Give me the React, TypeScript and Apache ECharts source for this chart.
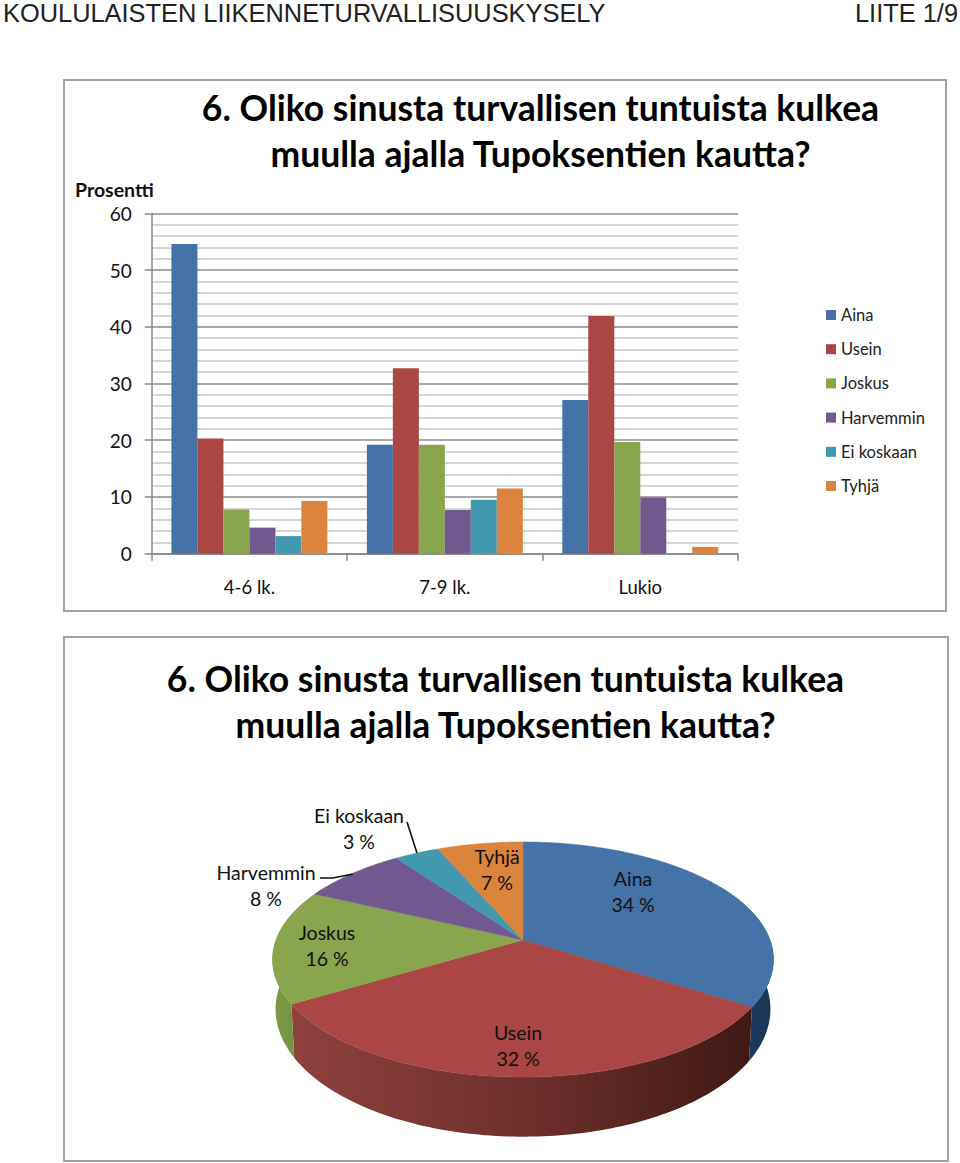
import React, { useEffect, useRef } from "react";
import * as echarts from "echarts";

const categories = ["4-6 lk.", "7-9 lk.", "Lukio"];
const seriesNames = ["Aina", "Usein", "Joskus", "Harvemmin", "Ei koskaan", "Tyhjä"];
const aina = [54.6, 19.2, 27.1];
const usein = [20.3, 32.7, 41.9];
const joskus = [7.8, 19.2, 19.7];
const harvemmin = [4.6, 7.7, 9.9];
const eiKoskaan = [3.1, 9.5, 0];
const tyhja = [9.3, 11.5, 1.2];
const barValues = [aina, usein, joskus, harvemmin, eiKoskaan, tyhja];
const pieShares = [34, 32.4, 15.7, 8, 3.4, 6.5];

const colors = ["#4572a7", "#aa4643", "#89a54e", "#71588f", "#4198af", "#db843d"];
const wallStops: string[][] = [
  ["#1f3d63", "#1a3454"],
  ["#8f413e", "#6f302d", "#3f1915"],
  ["#7c9a46", "#6f8b3c"],
  ["#4f3d66", "#4f3d66"],
  ["#2d6b7c", "#2d6b7c"],
  ["#9b5d2b", "#9b5d2b"],
];
const titleText = "6. Oliko sinusta turvallisen tuntuista kulkea\nmuulla ajalla Tupoksentien kautta?";
const FONT = "Lato";

// projection of the tilted pie: u = sin, v = cos of the angle clockwise from the top
const P = 0.166;
const TOP = { cx: 523, r: 247, ay: 940, a: 114.3 };
const BOTTOM = { cx: 523, r: 244, ay: 988, a: 124 };
const project = (f: typeof TOP, t: number) => {
  const u = Math.sin(t), v = Math.cos(t), w = 1 + P * v;
  return [f.cx + (f.r * u) / w, f.ay - (f.a * v) / w];
};
const arc = (f: typeof TOP, a: number, b: number) => {
  const n = Math.max(2, Math.ceil((b - a) / 0.02));
  const pts: number[][] = [];
  for (let i = 0; i <= n; i++) pts.push(project(f, a + ((b - a) * i) / n));
  return pts;
};
const total = pieShares.reduce((s, x) => s + x, 0);
const sliceRange = (i: number) => {
  const before = pieShares.slice(0, i).reduce((s, x) => s + x, 0);
  return [(before / total) * 2 * Math.PI, ((before + pieShares[i]) / total) * 2 * Math.PI];
};

const renderWall = (params: any) => {
  const i = params.dataIndex;
  const [a0, b0] = sliceRange(i);
  const a = Math.max(a0, Math.PI / 3), b = Math.min(b0, (Math.PI * 5) / 3);
  if (b <= a) return { type: "group", children: [] };
  const top = arc(TOP, a, b);
  const bottom = arc(BOTTOM, a, b).reverse();
  const xs = top.map((p) => p[0]);
  const stops = wallStops[i];
  const fill = new echarts.graphic.LinearGradient(
    Math.min(...xs), 0, Math.max(...xs), 0,
    stops.map((color, k) => ({ offset: k / (stops.length - 1), color })),
    true
  );
  return { type: "polygon", shape: { points: top.concat(bottom) }, style: { fill } };
};
const renderFace = (params: any) => {
  const i = params.dataIndex;
  const [a, b] = sliceRange(i);
  const points = [[TOP.cx, TOP.ay]].concat(arc(TOP, a, b));
  return { type: "polygon", shape: { points }, style: { fill: colors[i], stroke: colors[i], lineWidth: 0.5 } };
};

const pieLabelCentres = [
  [633, 891], [518, 1045], [327, 945], [266, 885], [359, 828], [497, 869],
];
const pieLabels = seriesNames.map((name, i) => ({
  type: "text",
  z: 20,
  x: pieLabelCentres[i][0],
  y: pieLabelCentres[i][1],
  style: {
    text: `${name}\n${Math.round(pieShares[i])} %`,
    fontFamily: FONT, fontSize: 19.5, lineHeight: 26, fill: "#111",
    textAlign: "center", textVerticalAlign: "middle",
  },
}));

export default function App() {
  const ref = useRef<HTMLDivElement>(null);
  useEffect(() => {
    document.body.style.margin = "0";
    const chart = echarts.init(ref.current!, undefined, { renderer: "svg" });
    chart.setOption({
      animation: false,
      backgroundColor: "#fff",
      color: colors,
      textStyle: { fontFamily: FONT },
      title: [
        { text: "KOULULAISTEN LIIKENNETURVALLISUUSKYSELY", left: 3, top: 0, padding: 0,
          textStyle: { fontFamily: "Liberation Sans", fontSize: 25.4, fontWeight: "normal", color: "#222" } },
        { text: "LIITE 1/9", left: 855, top: 0, padding: 0,
          textStyle: { fontFamily: "Liberation Sans", fontSize: 25.4, fontWeight: "normal", color: "#222" } },
        { text: titleText, left: 540.5, textAlign: "center", top: 84, padding: 0,
          textStyle: { fontFamily: FONT, fontSize: 35.5, fontWeight: "bold", lineHeight: 46, color: "#000" } },
        { text: titleText, left: 505.5, textAlign: "center", top: 655, padding: 0,
          textStyle: { fontFamily: FONT, fontSize: 35.5, fontWeight: "bold", lineHeight: 46, color: "#000" } },
        { text: "Prosentti", left: 75, top: 179, padding: 0,
          textStyle: { fontFamily: FONT, fontSize: 19.5, fontWeight: "bold", color: "#111" } },
      ],
      legend: {
        orient: "vertical", left: 826, top: 306, padding: 0,
        data: seriesNames, icon: "rect", itemWidth: 10, itemHeight: 10, itemGap: 16.2,
        textStyle: { fontFamily: FONT, fontSize: 16.5, color: "#222", padding: [0, 0, 0, 0], height: 18, lineHeight: 18 },
      },
      grid: { left: 151.7, top: 213.3, width: 586.3, height: 340.4 },
      xAxis: {
        type: "category", data: categories,
        axisLine: { lineStyle: { color: "#868686", width: 1.5 } },
        axisTick: { show: true, length: 7, lineStyle: { color: "#868686", width: 1.5 } },
        axisLabel: { fontFamily: FONT, fontSize: 18.5, color: "#111", margin: 24 },
      },
      yAxis: {
        type: "value", min: 0, max: 60, interval: 10,
        axisLine: { show: true, lineStyle: { color: "#868686", width: 1.5 } },
        axisTick: { show: true, length: 7, lineStyle: { color: "#868686", width: 1.5 } },
        axisLabel: { fontFamily: FONT, fontSize: 19, color: "#111", margin: 20 },
        splitLine: { show: true, lineStyle: { color: "#8c8c8c", width: 1.5 } },
        minorTick: { show: false, splitNumber: 5 },
        minorSplitLine: { show: true, lineStyle: { color: "#c8c8c8", width: 1.5 } },
      },
      series: [
        ...seriesNames.map((name, i) => ({
          type: "bar", name, data: barValues[i], barGap: "0%", barCategoryGap: "20.2%",
          itemStyle: { color: colors[i] },
        })),
        { type: "custom", name: "pieWalls", coordinateSystem: "none", renderItem: renderWall, data: pieShares, z: 3, silent: true },
        { type: "custom", name: "pieFaces", coordinateSystem: "none", renderItem: renderFace, data: pieShares, z: 4, silent: true },
      ],
      graphic: [
        { type: "rect", z: 1, shape: { x: 64, y: 80, width: 882, height: 531 }, style: { fill: "none", stroke: "#a2a2a2", lineWidth: 2 } },
        { type: "rect", z: 1, shape: { x: 64, y: 637, width: 884, height: 524 }, style: { fill: "none", stroke: "#a2a2a2", lineWidth: 2 } },
        { type: "polyline", z: 20, shape: { points: [[320, 878], [333, 878], [353, 874]] }, style: { stroke: "#111", lineWidth: 1.6, fill: "none" } },
        { type: "line", z: 20, shape: { x1: 407, y1: 822, x2: 417, y2: 853 }, style: { stroke: "#111", lineWidth: 1.6 } },
        ...pieLabels,
      ],
    });
    return () => chart.dispose();
  }, []);
  return <div ref={ref} style={{ width: 960, height: 1163 }} />;
}
